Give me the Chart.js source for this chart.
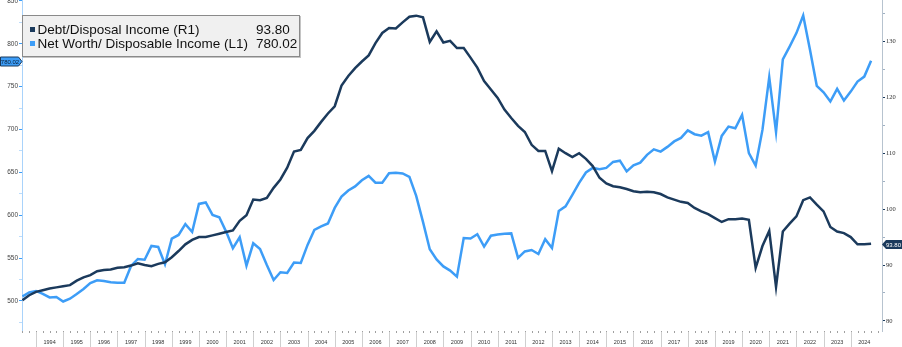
<!DOCTYPE html>
<html>
<head>
<meta charset="utf-8">
<script src="https://cdn.jsdelivr.net/npm/chart.js@4.4.1/dist/chart.umd.min.js"></script>
<style>
    body { margin: 0; background: #fff; }
    #wrap { position: relative; width: 902px; height: 347px; }
    #legend {
        position: absolute; left: 22px; top: 15px; width: 276px; height: 40px;
        background: #f0f0f0; border: 1px solid #8a8a8a; box-shadow: 1px 1px 0 #c4c4c4;
        font: 13.5px "Liberation Sans", Arial, sans-serif; color: #111;
    }
    .row { position: absolute; left: 0; width: 100%; height: 14px; line-height: 14px; white-space: nowrap; }
    .sw { position: absolute; left: 7px; top: 4px; width: 5px; height: 5px; }
    .name { position: absolute; left: 14.5px; }
    .val { position: absolute; left: 233px; }
</style>
</head>
<body>
<div id="wrap">
    <canvas id="chart"></canvas>
    <div id="legend">
        <div class="row" style="top:6.5px"><span class="sw" style="background:#1b3a5c"></span><span class="name">Debt/Disposal Income (R1)</span><span class="val" id="debtVal"></span></div>
        <div class="row" style="top:20.5px"><span class="sw" style="background:#3d9df7"></span><span class="name">Net Worth/ Disposable Income (L1)</span><span class="val" id="nwVal"></span></div>
    </div>
</div>
<script>
// quarterly, 1993 Q2 .. 2024 Q3
const firstQuarter = 1993.5;
const years = [1994, 1995, 1996, 1997, 1998, 1999, 2000, 2001, 2002, 2003, 2004, 2005, 2006, 2007, 2008,
    2009, 2010, 2011, 2012, 2013, 2014, 2015, 2016, 2017, 2018, 2019, 2020, 2021, 2022, 2023, 2024];

// Debt / disposable income, right axis
const debtToIncome = [
    83.7, 84.6, 85.2, 85.5, 85.8, 86.0, 86.2, 86.4, 87.2, 87.8,
    88.2, 88.9, 89.1, 89.2, 89.5, 89.6, 89.9, 90.3, 90.0, 89.8,
    90.2, 90.5, 91.4, 92.5, 93.7, 94.5, 95.0, 95.0, 95.3, 95.6,
    95.9, 96.2, 97.9, 98.9, 101.7, 101.6, 102.0, 103.8, 105.3, 107.4,
    110.3, 110.6, 112.7, 114.0, 115.6, 117.1, 118.4, 122.1, 123.8, 125.2,
    126.4, 127.5, 129.7, 131.5, 132.4, 132.3, 133.4, 134.4, 134.6, 134.3,
    129.9, 131.8, 129.8, 130.1, 128.8, 128.8, 127.1, 125.3, 122.9, 121.4,
    119.9, 117.8, 116.3, 114.9, 113.8, 111.5, 110.4, 110.4, 106.8, 110.8,
    110.0, 109.3, 110.0, 109.0, 107.7, 105.6, 104.6, 104.1, 103.9, 103.6,
    103.2, 103.0, 103.1, 103.0, 102.7, 102.1, 101.7, 101.3, 101.1, 100.2,
    99.6, 99.1, 98.4, 97.7, 98.2, 98.2, 98.3, 98.1, 89.5, 93.4,
    96.1, 86.1, 96.0, 97.4, 98.7, 101.6, 102.1, 100.8, 99.6, 96.8,
    96.0, 95.7, 95.0, 93.7, 93.7, 93.80
];

// Net worth / disposable income, left axis
const netWorthToIncome = [
    505.3, 509.9, 511.7, 508.4, 504.1, 504.7, 499.4, 502.7, 508.2, 514.0,
    520.8, 524.2, 523.3, 521.8, 521.4, 521.4, 540.8, 549.0, 548.1, 564.2,
    563.0, 542.8, 572.7, 577.0, 589.6, 580.5, 613.2, 614.9, 600.4, 597.7,
    580.9, 561.5, 574.3, 541.2, 567.3, 560.7, 542.0, 524.5, 533.5, 532.7,
    544.9, 544.3, 565.4, 582.9, 586.9, 590.4, 608.5, 621.7, 628.9, 633.6,
    640.8, 645.9, 638.0, 638.0, 649.0, 649.4, 648.8, 644.7, 622.5, 592.2,
    560.3, 548.4, 540.3, 535.4, 528.4, 573.5, 572.9, 577.8, 563.4, 576.1,
    577.6, 578.4, 578.8, 550.2, 557.8, 559.5, 554.8, 572.1, 561.9, 605.0,
    610.3, 623.7, 637.7, 649.9, 655.2, 653.7, 655.2, 662.2, 663.6, 651.1,
    658.1, 661.3, 670.4, 676.8, 674.2, 679.7, 686.1, 690.2, 699.0, 694.5,
    692.8, 696.9, 662.6, 692.5, 703.4, 701.5, 717.0, 672.4, 657.9, 699.5,
    761.0, 696.9, 781.8, 796.7, 812.4, 832.9, 792.9, 750.9, 743.3, 732.6,
    747.4, 733.7, 744.2, 755.9, 761.7, 780.02
];

const NAVY = "#1b3a5c";
const SKY = "#3d9df7";

const periods = debtToIncome.map((_, i) => firstQuarter + i * 0.25);
const lastDebt = debtToIncome[debtToIncome.length - 1];
const lastNw = netWorthToIncome[netWorthToIncome.length - 1];
document.getElementById("debtVal").textContent = lastDebt.toFixed(2);
document.getElementById("nwVal").textContent = lastNw.toFixed(2);

// quarter ticks, year separators and last-value tags
const axisExtras = {
    id: "axisExtras",
    afterDraw(chart) {
        const { ctx, chartArea, scales } = chart;
        const x = scales.x, yL = scales.yL, yR = scales.yR;
        const bottom = chartArea.bottom;
        ctx.save();
        ctx.lineWidth = 1;
        ctx.strokeStyle = "#a0a0a0";
        for (let t = Math.ceil(x.min * 4) / 4; t <= x.max; t += 0.25) {
            const px = Math.round(x.getPixelForValue(t)) + 0.5;
            ctx.beginPath(); ctx.moveTo(px, bottom); ctx.lineTo(px, bottom + 2); ctx.stroke();
        }
        ctx.strokeStyle = "#cfcfcf";
        years.forEach(y => {
            const px = Math.round(x.getPixelForValue(y)) + 0.5;
            ctx.beginPath(); ctx.moveTo(px, bottom + 1); ctx.lineTo(px, chart.height); ctx.stroke();
        });

        ctx.font = '6px "Liberation Sans"';
        ctx.textAlign = "center";
        ctx.textBaseline = "middle";

        const yN = Math.round(yL.getPixelForValue(lastNw)) + 0.5;
        ctx.beginPath();
        ctx.moveTo(0.5, yN - 4.5); ctx.lineTo(18.5, yN - 4.5); ctx.lineTo(22, yN);
        ctx.lineTo(18.5, yN + 4.5); ctx.lineTo(0.5, yN + 4.5); ctx.closePath();
        ctx.fillStyle = SKY; ctx.fill();
        ctx.strokeStyle = NAVY; ctx.stroke();
        ctx.fillStyle = "#0b1f36";
        ctx.fillText(lastNw.toFixed(2), 10, yN + 0.5);

        const yD = Math.round(yR.getPixelForValue(lastDebt)) + 0.5;
        ctx.beginPath();
        ctx.moveTo(882, yD); ctx.lineTo(886, yD - 4.5); ctx.lineTo(902, yD - 4.5);
        ctx.lineTo(902, yD + 4.5); ctx.lineTo(886, yD + 4.5); ctx.closePath();
        ctx.fillStyle = NAVY; ctx.fill();
        ctx.fillStyle = "#ffffff";
        ctx.fillText(lastDebt.toFixed(2), 893.5, yD + 0.5);
        ctx.restore();
    }
};

const noPad = s => { s.paddingTop = 0; s.paddingBottom = 0; s.paddingLeft = 0; s.paddingRight = 0; };

new Chart(document.getElementById("chart"), {
    type: "line",
    data: {
        datasets: [{
            label: "Debt/Disposal Income (R1)",
            data: debtToIncome.map((v, i) => ({ x: periods[i], y: v })),
            yAxisID: "yR",
            borderColor: NAVY,
            borderWidth: 2.5,
            pointRadius: 0,
            tension: 0,
            order: 0
        }, {
            label: "Net Worth/ Disposable Income (L1)",
            data: netWorthToIncome.map((v, i) => ({ x: periods[i], y: v })),
            yAxisID: "yL",
            borderColor: SKY,
            borderWidth: 2.5,
            pointRadius: 0,
            tension: 0,
            order: 1
        }]
    },
    options: {
        responsive: true,
        maintainAspectRatio: false,
        animation: false,
        layout: { padding: 0 },
        plugins: { legend: { display: false }, tooltip: { enabled: false } },
        scales: {
            x: {
                type: "linear",
                min: 1993.4845,
                max: 2025.152,
                afterFit: s => { s.height = 16; noPad(s); },
                afterBuildTicks: s => { s.ticks = years.map(y => ({ value: y + 0.5 })); },
                border: { display: false },
                grid: { display: false, drawTicks: false },
                ticks: {
                    autoSkip: false, maxRotation: 0, padding: 8.5, color: "#333",
                    font: { size: 5.5, family: "Liberation Sans" },
                    callback: v => String(Math.floor(v))
                }
            },
            yL: {
                position: "left",
                min: 465,
                max: 851,
                afterFit: s => { s.width = 22; noPad(s); },
                border: { color: "#a9d3fb" },
                grid: {
                    drawOnChartArea: false, tickLength: 3,
                    tickColor: c => c.tick.value % 50 === 0 ? SKY : "#bcdcfb"
                },
                ticks: {
                    stepSize: 25, includeBounds: false, autoSkip: false, padding: 1, color: "#444",
                    font: { size: 6.5, family: "Liberation Sans" },
                    callback: v => v % 50 === 0 ? v : ""
                }
            },
            yR: {
                position: "right",
                min: 78.2,
                max: 137.4,
                afterFit: s => { s.width = 20; noPad(s); },
                border: { color: "#b7c3cf" },
                grid: {
                    drawOnChartArea: false, tickLength: 3,
                    tickColor: c => c.tick.value % 10 === 0 ? NAVY : "#9fb0c2"
                },
                ticks: {
                    stepSize: 5, includeBounds: false, autoSkip: false, padding: 1, color: "#333",
                    font: { size: 6.5, family: "Liberation Serif" },
                    callback: v => v % 10 === 0 ? v : ""
                }
            }
        }
    },
    plugins: [axisExtras]
});
</script>
</body>
</html>
